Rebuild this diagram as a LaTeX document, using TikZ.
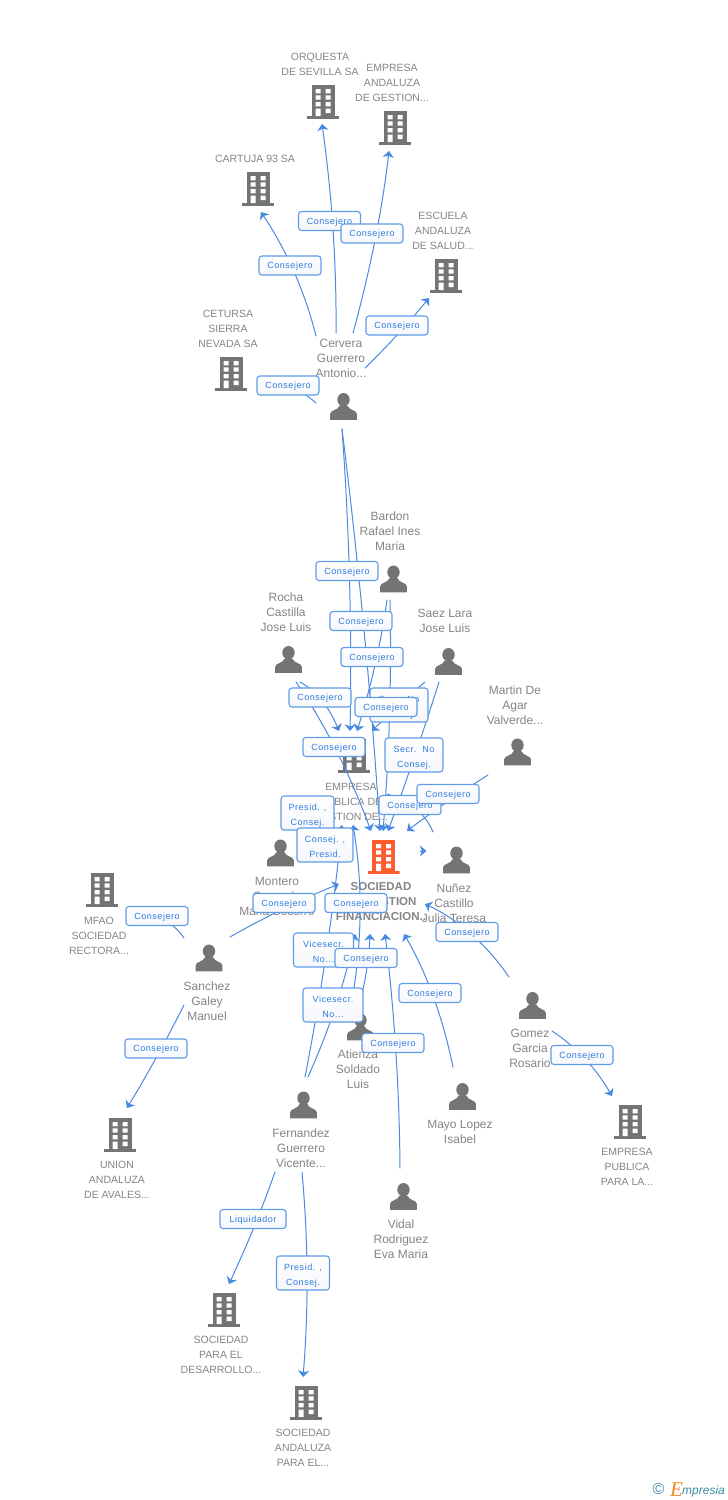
\documentclass[tikz,border=0pt]{standalone}
\usepackage{fontspec}
\setmainfont{Liberation Sans}
\newfontfamily\badgefont[LetterSpace=6]{Liberation Sans}
\newfontfamily\logoserif{Liberation Serif}
\usetikzlibrary{arrows.meta,calc}
\definecolor{edgeblue}{HTML}{4A8BE2}
\definecolor{badgeline}{HTML}{5F9BE8}
\definecolor{badgetext}{HTML}{2F7BE0}
\definecolor{badgebottom}{HTML}{F5F7FB}
\definecolor{labelgrey}{HTML}{858585}
\definecolor{icongrey}{HTML}{747474}
\definecolor{iconorange}{HTML}{FF5B2E}
\definecolor{logoteal}{HTML}{3F8CA8}
\definecolor{logoorange}{HTML}{F08A24}
\pgfdeclarelayer{lab}
\pgfdeclarelayer{edges}
\pgfsetlayers{lab,edges,main}
\newcommand{\bldgart}[1]{%
  \begin{scope}[shift={(path picture bounding box.center)}]
    \fill[#1] (-11.3,-17) rectangle (11.7,14);
    \fill[#1] (-16,14) rectangle (16,17);
    \fill[white] (-7.5,-13) rectangle (-2.3,-8.7) (2.5,-13) rectangle (7.7,-8.7)
      (-7.5,-6.7) rectangle (-2.3,-2.3) (2.5,-6.7) rectangle (7.7,-2.3)
      (-7.5,0) rectangle (-2.3,4.3) (2.5,0) rectangle (7.7,4.3)
      (-7.5,6.7) rectangle (-2.3,14) (2.5,6.7) rectangle (7.7,11);
  \end{scope}}
\newcommand{\personart}{%
  \begin{scope}[shift={(path picture bounding box.center)}]
    \fill[icongrey] (0,-6.8) ellipse [x radius=6.2, y radius=6.7];
    \fill[icongrey] (-13.4,13.4) -- (-13.4,7.5) .. controls (-13.4,3.5) and (-5.5,4) .. (-3.8,-1)
      -- (3.8,-1) .. controls (5.5,4) and (13.4,3.5) .. (13.4,7.5) -- (13.4,13.4) -- cycle;
  \end{scope}}
\tikzset{
  bldg/.style={inner sep=0pt, minimum width=32pt, minimum height=34pt, path picture={\bldgart{icongrey}}},
  bldghot/.style={inner sep=0pt, minimum width=32pt, minimum height=34pt, path picture={\bldgart{iconorange}}},
  person/.style={inner sep=0pt, minimum width=27pt, minimum height=27pt, path picture={\personart}},
  plab/.style={inner sep=0pt, align=center, yshift=-0.4pt, text=labelgrey, font=\fontsize{12}{15}\selectfont},
  clab/.style={inner sep=0pt, align=center, yshift=-0.4pt, text=labelgrey, font=\fontsize{10.5}{15}\selectfont},
  hotlab/.style={inner sep=0pt, align=center, yshift=-0.4pt, text=labelgrey, font=\fontsize{11.5}{15}\selectfont\bfseries},
  badge/.style={draw=badgeline, line width=1.1pt, rounded corners=3pt, top color=white, bottom color=badgebottom,
    text=badgetext, inner sep=0pt, align=center, minimum width=62pt, minimum height=19pt,
    font=\fontsize{9}{15}\selectfont\badgefont, execute at begin node={\rule{0pt}{8.5pt}}},
  twoline/.style={badge, minimum height=34pt, execute at begin node={\rule{0pt}{26pt}}},
  edgeline/.style={draw=edgeblue, line width=1pt, line cap=round, line join=round, -{Stealth[length=6.5pt,width=11pt,inset=1.8pt]}},
  plainline/.style={draw=edgeblue, line width=1pt, line cap=round, line join=round},
}
% a connector: free start, a point the curve passes half way, free end
\newcommand{\linkcore}[5]{%
  \coordinate (#2-s) at (#3); \coordinate (#2-m) at (#4); \coordinate (#2-t) at (#5);
  \coordinate (#2-q) at ($2*(#2-m)-0.5*(#2-s)-0.5*(#2-t)$);
  \draw[#1] (#2-s) .. controls ($(#2-s)!0.6667!(#2-q)$) and ($(#2-t)!0.6667!(#2-q)$) .. (#2-t);}
\newcommand{\linkarrow}{\linkcore{edgeline}}
\newcommand{\linkplain}{\linkcore{plainline}}
\begin{document}
\begin{tikzpicture}[x=1pt,y=-1pt]
\useasboundingbox (0,0) rectangle (728,1500);

% labels and icons
\begin{pgfonlayer}{lab}
\fill[white] (0,0) rectangle (728,1500);
\node[clab] (lOrq) at (320,63.5) {ORQUESTA\\DE SEVILLA SA};
\node[clab] (lEmpAnd) at (392,82) {EMPRESA\\ANDALUZA\\DE GESTION...};
\node[clab] (lCart) at (255,158) {CARTUJA 93 SA};
\node[clab] (lEsc) at (443,230) {ESCUELA\\ANDALUZA\\DE SALUD...};
\node[clab] (lCet) at (228,328) {CETURSA\\SIERRA\\NEVADA SA};
\node[plab] (lCerv) at (341,358) {Cervera\\Guerrero\\Antonio...};
\node[plab] (lBard) at (390,531) {Bardon\\Rafael Ines\\Maria};
\node[plab] (lRoch) at (286,612) {Rocha\\Castilla\\Jose Luis};
\node[plab] (lSaez) at (445,620.5) {Saez Lara\\Jose Luis};
\node[plab] (lMart) at (515,705) {Martin De\\Agar\\Valverde...};
\node[clab] (lEP) at (351,801) {EMPRESA\\PUBLICA DE\\GESTION DE...};
\node[hotlab] (lCent) at (381,901) {SOCIEDAD\\DE GESTION\\FINANCIACION..};
\node[plab] (lNun) at (454,903) {Nuñez\\Castillo\\Julia Teresa};
\node[plab] (lMont) at (277,896) {Montero\\Cansado\\Maria Socorro};
\node[clab] (lMfao) at (99,935) {MFAO\\SOCIEDAD\\RECTORA...};
\node[plab] (lSanc) at (207,1001) {Sanchez\\Galey\\Manuel};
\node[clab] (lUnion) at (117,1179) {UNION\\ANDALUZA\\DE AVALES...};
\node[plab] (lAtie) at (358,1069) {Atienza\\Soldado\\Luis};
\node[plab] (lGome) at (530,1048) {Gomez\\Garcia\\Rosario};
\node[clab] (lEPP) at (627,1166) {EMPRESA\\PUBLICA\\PARA LA...};
\node[plab] (lFern) at (301,1148) {Fernandez\\Guerrero\\Vicente...};
\node[plab] (lMayo) at (460,1131.5) {Mayo Lopez\\Isabel};
\node[plab] (lVida) at (401,1239) {Vidal\\Rodriguez\\Eva Maria};
\node[clab] (lDes) at (221,1354) {SOCIEDAD\\PARA EL\\DESARROLLO...};
\node[clab] (lSAnd) at (303,1447) {SOCIEDAD\\ANDALUZA\\PARA EL...};

\node[bldg] (bOrq) at (323,102) {};
\node[bldg] (bEmpAnd) at (395,128) {};
\node[bldg] (bCart) at (258,189) {};
\node[bldg] (bEsc) at (446,276) {};
\node[bldg] (bCet) at (231,374) {};
\node[bldg] (bEP) at (354,756) {};
\node[bldghot] (bCent) at (383.5,857) {};
\node[bldg] (bMfao) at (102,890) {};
\node[bldg] (bUnion) at (120,1135) {};
\node[bldg] (bEPP) at (630,1122) {};
\node[bldg] (bDes) at (224,1310) {};
\node[bldg] (bSAnd) at (306,1403) {};

\node[person] (pCerv) at (343.5,406.5) {};
\node[person] (pBard) at (393.5,579) {};
\node[person] (pRoch) at (288.5,659.5) {};
\node[person] (pSaez) at (448.5,661.5) {};
\node[person] (pMart) at (517.5,752) {};
\node[person] (pNun) at (456.5,860) {};
\node[person] (pMont) at (280.5,853) {};
\node[person] (pSanc) at (209,958) {};
\node[person] (pAtie) at (360.5,1027) {};
\node[person] (pGome) at (532.5,1005.5) {};
\node[person] (pFern) at (303.5,1105) {};
\node[person] (pMayo) at (462.5,1096.5) {};
\node[person] (pVida) at (403.5,1196.5) {};
\end{pgfonlayer}

% connectors
\begin{pgfonlayer}{edges}
\linkarrow{e1}{316,336}{294,272}{261,212}
\linkarrow{e2}{336,333}{333,230}{322,124}
\linkarrow{e3}{353,333}{375,240}{389,151}
\linkarrow{e4}{365,368}{397,335}{429,298}
\linkplain{e5}{316,403}{303,393}{289,385}
\linkarrow{e6}{342,429}{349.5,580}{350,731}
\linkarrow{e7}{342,429}{364,630}{380,831}
\linkarrow{e8}{387,600}{375,665}{357,731}
\linkarrow{e9}{390,600}{389.5,715}{383,831}
\linkarrow{e10}{300,682}{322,701}{339,731}
\linkarrow{e11}{296,682}{336,750}{371,831}
\linkarrow{e12}{425,682}{399,705}{372,731}
\linkarrow{e13}{439,682}{415,755}{388,831}
\linkarrow{e14}{488,775}{447,802}{407,831}
\linkplain{e15}{433,832}{416,809}{387,794}
\linkarrow{e16}{305,1077}{326.5,951}{342,825}
\linkarrow{e17}{308,1077}{336,1005}{355,934}
\linkarrow{e18}{352,1000}{360,912}{353,825}
\linkarrow{e19}{361,998}{367,967}{370,934}
\linkarrow{e20}{400,1168}{395.8,1051}{385,934}
\linkarrow{e21}{453,1067}{433,996}{404,934}
\linkarrow{e22}{230,937}{285,908}{339,884}
\linkplain{e23}{184,938}{173,926}{157,916}
\linkarrow{e24}{184,1005}{156,1058}{127,1108}
\linkarrow{e25}{509,977}{471,934}{425,904}
\linkarrow{e26}{552,1031}{585,1059}{612,1096}
\linkarrow{e27}{275,1172}{254,1227}{229,1284}
\linkarrow{e28}{302,1172}{307,1275}{303,1377}
\linkarrow{e29}{420,851}{423,851}{426.5,851}
\end{pgfonlayer}

% badges
\node[badge] (b01) at (329.5,221) {Consejero};
\node[badge] (b02) at (372,233.5) {Consejero};
\node[badge] (b03) at (290,265.5) {Consejero};
\node[badge] (b04) at (397,325.5) {Consejero};
\node[badge] (b05) at (288,385.5) {Consejero};
\node[badge] (b06) at (347,571) {Consejero};
\node[badge] (b07) at (361,621) {Consejero};
\node[badge] (b08) at (372,657) {Consejero};
\node[badge] (b09) at (320,697.5) {Consejero};
\node[twoline, minimum width=58pt] (b10) at (399,705) {Secr.\ \ No\\Consej.};
\node[badge] (b11) at (386,707) {Consejero};
\node[badge] (b12) at (334,747) {Consejero};
\node[twoline, minimum width=58pt] (b13) at (414,755) {Secr.\ \ No\\Consej.};
\node[badge] (b14) at (410,805) {Consejero};
\node[badge] (b15) at (448,794) {Consejero};
\node[twoline, minimum width=53pt] (b16) at (307.5,813) {Presid. ,\\Consej.};
\node[twoline, minimum width=56pt] (b17) at (325,845) {Consej. ,\\Presid.};
\node[badge] (b18) at (284,903) {Consejero};
\node[badge] (b19) at (356,903) {Consejero};
\node[twoline, minimum width=60pt] (b20) at (323.5,950) {Vicesecr.\\No...};
\node[badge] (b21) at (366,958) {Consejero};
\node[twoline, minimum width=60pt] (b22) at (333,1005) {Vicesecr.\\No...};
\node[badge] (b23) at (430,993) {Consejero};
\node[badge] (b24) at (393,1043) {Consejero};
\node[badge] (b25) at (467,932) {Consejero};
\node[badge] (b26) at (157,916) {Consejero};
\node[badge] (b27) at (156,1048.5) {Consejero};
\node[badge] (b28) at (582,1055) {Consejero};
\node[badge, minimum width=66pt] (b29) at (253,1219) {Liquidador};
\node[twoline, minimum width=53pt] (b30) at (303,1273) {Presid. ,\\Consej.};

% logo
\node[inner sep=0pt, text=logoteal, font=\fontsize{16}{16}\selectfont] (logoC) at (658.5,1489) {©};
\node[inner sep=0pt, anchor=base west, text=logoorange, font=\fontsize{21}{21}\selectfont\logoserif\itshape] (logoE) at (670,1496) {E};
\node[inner sep=0pt, anchor=base west, text=logoteal, font=\fontsize{12}{12}\selectfont\itshape] (logoT) at (682,1494) {mpresia};
\end{tikzpicture}
\end{document}
